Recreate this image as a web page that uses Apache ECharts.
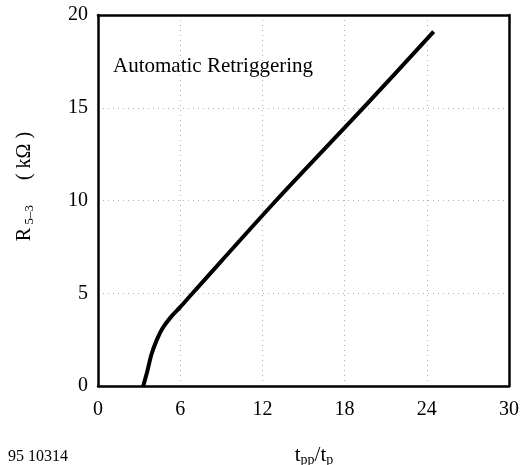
<!DOCTYPE html>
<html><head><meta charset="utf-8">
<script src="https://cdn.jsdelivr.net/npm/echarts@6/dist/echarts.min.js"></script>
<style>html,body{margin:0;padding:0;background:#fff}#c{width:521px;height:465px}</style>
</head><body><div id="c"></div>
<script>
const xTicks = [0, 6, 12, 18, 24, 30];
const yTicks = [0, 5, 10, 15, 20];
const curveX = [3.3, 3.6, 3.9, 4.3, 4.7, 5.3, 6.0, 6.9, 13.0, 19.5, 24.5];
const curveY = [0.0, 0.8, 1.7, 2.5, 3.1, 3.7, 4.25, 5.0, 10.0, 15.1, 19.1];
const annotation = 'Automatic Retriggering';
const figureId = '95 10314';

const serif = '"Liberation Serif", "Times New Roman", serif';
const frame = {show: true, onZero: false, lineStyle: {color: '#000', width: 2.5}};
const xMin = xTicks[0], xMax = xTicks[xTicks.length - 1];
const yMin = yTicks[0], yMax = yTicks[yTicks.length - 1];
const chart = echarts.init(document.getElementById('c'), null, {renderer: 'canvas'});
chart.setOption({
  animation: false,
  backgroundColor: '#fff',
  grid: {left: 98, right: 12, top: 15, bottom: 79, containLabel: false, outerBoundsMode: 'none'},
  xAxis: [{
    type: 'value', min: xMin, max: xMax, interval: 6, position: 'bottom',
    axisLine: frame, axisTick: {show: false},
    axisLabel: {color: '#000', fontFamily: serif, fontSize: 20, margin: 14},
    splitLine: {show: true, lineStyle: {color: '#b0b0b0', type: [1, 4], width: 1}},
    name: '{b|t}{s|pp}{b|/t}{s|p}', nameLocation: 'middle', nameGap: 57,
    nameTextStyle: {padding: [0, 0, 0, 21], rich: {
      b: {fontFamily: serif, fontSize: 21, color: '#000'},
      s: {fontFamily: serif, fontSize: 14, color: '#000', padding: [10, 0, 0, 0]}
    }}
  }, {
    type: 'value', min: xMin, max: xMax, interval: 6, position: 'top',
    axisLine: frame, axisTick: {show: false}, axisLabel: {show: false}, splitLine: {show: false}
  }],
  yAxis: [{
    type: 'value', min: yMin, max: yMax, interval: 5, position: 'left',
    axisLine: frame, axisTick: {show: false},
    axisLabel: {color: '#000', fontFamily: serif, fontSize: 20, margin: 10},
    splitLine: {show: true, lineStyle: {color: '#b0b0b0', type: [1, 4], width: 1}},
    name: '{b|R}{s| 5–3}{b|     ( kΩ )}', nameLocation: 'middle', nameGap: 62, nameRotate: 90,
    nameTextStyle: {padding: [0, 0, 0, 28], rich: {
      b: {fontFamily: serif, fontSize: 20, color: '#000'},
      s: {fontFamily: serif, fontSize: 13, color: '#000', padding: [10, 0, 0, 0]}
    }}
  }, {
    type: 'value', min: yMin, max: yMax, interval: 5, position: 'right',
    axisLine: frame, axisTick: {show: false}, axisLabel: {show: false}, splitLine: {show: false}
  }],
  graphic: [
    {type: 'text', left: 113, top: 56, style: {text: annotation, font: '21px ' + serif, fill: '#000'}},
    {type: 'text', left: 8, top: 449, style: {text: figureId, font: '16px ' + serif, fill: '#000'}}
  ],
  series: [{
    type: 'line', smooth: 0.3, symbol: 'none', xAxisIndex: 0, yAxisIndex: 0,
    lineStyle: {color: '#000', width: 4},
    data: curveX.map((x, i) => [x, curveY[i]])
  }]
});
</script></body></html>
